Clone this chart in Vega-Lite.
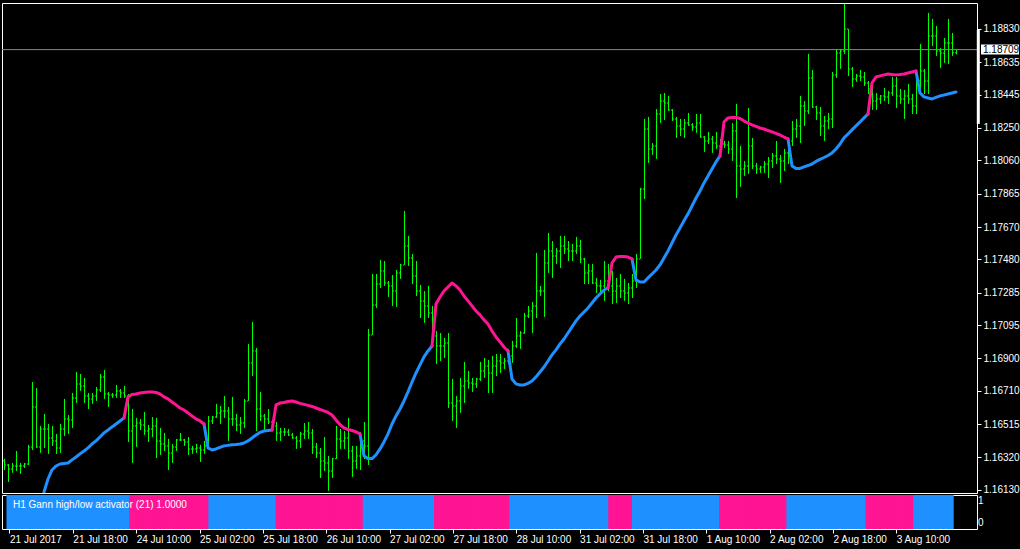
{
"$schema": "https://vega.github.io/schema/vega-lite/v6.json",
"background": "#000000",
"padding": {"left": 1, "top": 2, "right": 0, "bottom": 5},
"autosize": {"type": "pad"},
"bounds": "flush",
"spacing": 2,
"config": {
  "view": {"stroke": "#FFFFFF", "strokeWidth": 1},
  "font": "Liberation Sans",
  "axis": {"labelColor": "#FFFFFF", "tickColor": "#FFFFFF", "domain": false, "grid": false, "labelFont": "Liberation Sans", "labelFontSize": 10, "labelOverlap": false},
  "axisY": {"labelOverlap": false},
  "axisRight": {"labelOverlap": false}
},
"datasets": {
"bars": [
{"i":0,"o":1.16300,"h":1.16312,"l":1.16247,"c":1.16276,"s":"u"},
{"i":1,"o":1.16276,"h":1.16282,"l":1.16177,"c":1.16253,"s":"u"},
{"i":2,"o":1.16253,"h":1.16288,"l":1.16230,"c":1.16270,"s":"u"},
{"i":3,"o":1.16270,"h":1.16358,"l":1.16241,"c":1.16270,"s":"u"},
{"i":4,"o":1.16270,"h":1.16288,"l":1.16224,"c":1.16270,"s":"u"},
{"i":5,"o":1.16270,"h":1.16288,"l":1.16259,"c":1.16282,"s":"u"},
{"i":6,"o":1.16282,"h":1.16394,"l":1.16276,"c":1.16382,"s":"u"},
{"i":7,"o":1.16382,"h":1.16762,"l":1.16364,"c":1.16616,"s":"u"},
{"i":8,"o":1.16616,"h":1.16727,"l":1.16376,"c":1.16382,"s":"u"},
{"i":9,"o":1.16382,"h":1.16505,"l":1.16347,"c":1.16487,"s":"u"},
{"i":10,"o":1.16487,"h":1.16575,"l":1.16376,"c":1.16487,"s":"u","up":1.16118},
{"i":11,"o":1.16487,"h":1.16516,"l":1.16341,"c":1.16434,"s":"u","up":1.16194},
{"i":12,"o":1.16434,"h":1.16505,"l":1.16388,"c":1.16417,"s":"u","up":1.16247},
{"i":13,"o":1.16417,"h":1.16458,"l":1.16341,"c":1.16376,"s":"u","up":1.16270},
{"i":14,"o":1.16376,"h":1.16516,"l":1.16347,"c":1.16487,"s":"u","up":1.16282},
{"i":15,"o":1.16487,"h":1.16663,"l":1.16446,"c":1.16546,"s":"u","up":1.16285},
{"i":16,"o":1.16546,"h":1.16569,"l":1.16458,"c":1.16540,"s":"u","up":1.16288},
{"i":17,"o":1.16540,"h":1.16698,"l":1.16493,"c":1.16669,"s":"u","up":1.16306},
{"i":18,"o":1.16669,"h":1.16821,"l":1.16639,"c":1.16751,"s":"u","up":1.16323},
{"i":19,"o":1.16751,"h":1.16809,"l":1.16710,"c":1.16739,"s":"u","up":1.16341},
{"i":20,"o":1.16739,"h":1.16786,"l":1.16639,"c":1.16680,"s":"u","up":1.16358},
{"i":21,"o":1.16680,"h":1.16698,"l":1.16604,"c":1.16663,"s":"u","up":1.16376},
{"i":22,"o":1.16663,"h":1.16698,"l":1.16634,"c":1.16680,"s":"u","up":1.16399},
{"i":23,"o":1.16680,"h":1.16733,"l":1.16651,"c":1.16716,"s":"u","up":1.16417},
{"i":24,"o":1.16716,"h":1.16809,"l":1.16704,"c":1.16792,"s":"u","up":1.16440},
{"i":25,"o":1.16792,"h":1.16833,"l":1.16663,"c":1.16692,"s":"u","up":1.16464},
{"i":26,"o":1.16692,"h":1.16704,"l":1.16616,"c":1.16686,"s":"u","up":1.16481},
{"i":27,"o":1.16686,"h":1.16698,"l":1.16669,"c":1.16686,"s":"u","up":1.16499},
{"i":28,"o":1.16686,"h":1.16745,"l":1.16669,"c":1.16710,"s":"u","up":1.16516},
{"i":29,"o":1.16710,"h":1.16721,"l":1.16669,"c":1.16698,"s":"u","up":1.16534},
{"i":30,"o":1.16698,"h":1.16739,"l":1.16669,"c":1.16680,"s":"u","up":1.16552,"dn":1.16552},
{"i":31,"o":1.16680,"h":1.16692,"l":1.16411,"c":1.16475,"s":"d","dn":1.16675},
{"i":32,"o":1.16475,"h":1.16604,"l":1.16288,"c":1.16505,"s":"d","dn":1.16689},
{"i":33,"o":1.16505,"h":1.16552,"l":1.16382,"c":1.16522,"s":"d","dn":1.16692},
{"i":34,"o":1.16522,"h":1.16546,"l":1.16481,"c":1.16511,"s":"d","dn":1.16698},
{"i":35,"o":1.16511,"h":1.16587,"l":1.16452,"c":1.16475,"s":"d","dn":1.16701},
{"i":36,"o":1.16475,"h":1.16511,"l":1.16411,"c":1.16487,"s":"d","dn":1.16704},
{"i":37,"o":1.16487,"h":1.16557,"l":1.16440,"c":1.16505,"s":"d","dn":1.16704},
{"i":38,"o":1.16505,"h":1.16552,"l":1.16317,"c":1.16417,"s":"d","dn":1.16701},
{"i":39,"o":1.16417,"h":1.16493,"l":1.16335,"c":1.16399,"s":"d","dn":1.16692},
{"i":40,"o":1.16399,"h":1.16464,"l":1.16358,"c":1.16388,"s":"d","dn":1.16675},
{"i":41,"o":1.16388,"h":1.16429,"l":1.16247,"c":1.16347,"s":"d","dn":1.16663},
{"i":42,"o":1.16347,"h":1.16399,"l":1.16288,"c":1.16382,"s":"d","dn":1.16645},
{"i":43,"o":1.16382,"h":1.16429,"l":1.16358,"c":1.16423,"s":"d","dn":1.16628},
{"i":44,"o":1.16423,"h":1.16464,"l":1.16417,"c":1.16423,"s":"d","dn":1.16610},
{"i":45,"o":1.16423,"h":1.16429,"l":1.16388,"c":1.16411,"s":"d","dn":1.16598},
{"i":46,"o":1.16411,"h":1.16440,"l":1.16335,"c":1.16370,"s":"d","dn":1.16581},
{"i":47,"o":1.16370,"h":1.16388,"l":1.16341,"c":1.16370,"s":"d","dn":1.16563},
{"i":48,"o":1.16370,"h":1.16399,"l":1.16347,"c":1.16376,"s":"d","dn":1.16546},
{"i":49,"o":1.16376,"h":1.16394,"l":1.16294,"c":1.16364,"s":"d","dn":1.16534},
{"i":50,"o":1.16364,"h":1.16417,"l":1.16341,"c":1.16388,"s":"d","dn":1.16516,"up":1.16516},
{"i":51,"o":1.16388,"h":1.16563,"l":1.16376,"c":1.16534,"s":"u","up":1.16376},
{"i":52,"o":1.16534,"h":1.16563,"l":1.16516,"c":1.16557,"s":"u","up":1.16364},
{"i":53,"o":1.16557,"h":1.16634,"l":1.16552,"c":1.16581,"s":"u","up":1.16370},
{"i":54,"o":1.16581,"h":1.16622,"l":1.16516,"c":1.16593,"s":"u","up":1.16379},
{"i":55,"o":1.16593,"h":1.16680,"l":1.16552,"c":1.16593,"s":"u","up":1.16388},
{"i":56,"o":1.16593,"h":1.16616,"l":1.16417,"c":1.16546,"s":"u","up":1.16391},
{"i":57,"o":1.16546,"h":1.16675,"l":1.16505,"c":1.16546,"s":"u","up":1.16394},
{"i":58,"o":1.16546,"h":1.16575,"l":1.16475,"c":1.16511,"s":"u","up":1.16396},
{"i":59,"o":1.16511,"h":1.16557,"l":1.16458,"c":1.16522,"s":"u","up":1.16399},
{"i":60,"o":1.16522,"h":1.16663,"l":1.16493,"c":1.16651,"s":"u","up":1.16405},
{"i":61,"o":1.16651,"h":1.16985,"l":1.16651,"c":1.16874,"s":"u","up":1.16417},
{"i":62,"o":1.16874,"h":1.17114,"l":1.16797,"c":1.16944,"s":"u","up":1.16434},
{"i":63,"o":1.16944,"h":1.16962,"l":1.16475,"c":1.16604,"s":"u","up":1.16452},
{"i":64,"o":1.16604,"h":1.16704,"l":1.16534,"c":1.16563,"s":"u","up":1.16467},
{"i":65,"o":1.16563,"h":1.16575,"l":1.16475,"c":1.16546,"s":"u","up":1.16475},
{"i":66,"o":1.16546,"h":1.16604,"l":1.16516,"c":1.16528,"s":"u","up":1.16478},
{"i":67,"o":1.16528,"h":1.16534,"l":1.16475,"c":1.16505,"s":"u","up":1.16481,"dn":1.16481},
{"i":68,"o":1.16505,"h":1.16528,"l":1.16417,"c":1.16464,"s":"d","dn":1.16628},
{"i":69,"o":1.16464,"h":1.16493,"l":1.16417,"c":1.16470,"s":"d","dn":1.16639},
{"i":70,"o":1.16470,"h":1.16493,"l":1.16446,"c":1.16470,"s":"d","dn":1.16642},
{"i":71,"o":1.16470,"h":1.16487,"l":1.16446,"c":1.16452,"s":"d","dn":1.16648},
{"i":72,"o":1.16452,"h":1.16464,"l":1.16429,"c":1.16434,"s":"d","dn":1.16651},
{"i":73,"o":1.16434,"h":1.16446,"l":1.16370,"c":1.16417,"s":"d","dn":1.16645},
{"i":74,"o":1.16417,"h":1.16470,"l":1.16376,"c":1.16458,"s":"d","dn":1.16637},
{"i":75,"o":1.16458,"h":1.16522,"l":1.16429,"c":1.16475,"s":"d","dn":1.16631},
{"i":76,"o":1.16475,"h":1.16528,"l":1.16429,"c":1.16464,"s":"d","dn":1.16625},
{"i":77,"o":1.16464,"h":1.16487,"l":1.16341,"c":1.16382,"s":"d","dn":1.16619},
{"i":78,"o":1.16382,"h":1.16405,"l":1.16317,"c":1.16347,"s":"d","dn":1.16610},
{"i":79,"o":1.16347,"h":1.16376,"l":1.16200,"c":1.16300,"s":"d","dn":1.16601},
{"i":80,"o":1.16300,"h":1.16440,"l":1.16241,"c":1.16288,"s":"d","dn":1.16593},
{"i":81,"o":1.16288,"h":1.16329,"l":1.16124,"c":1.16241,"s":"d","dn":1.16584},
{"i":82,"o":1.16241,"h":1.16317,"l":1.16200,"c":1.16312,"s":"d","dn":1.16569},
{"i":83,"o":1.16312,"h":1.16505,"l":1.16311,"c":1.16429,"s":"d","dn":1.16540},
{"i":84,"o":1.16429,"h":1.16487,"l":1.16370,"c":1.16417,"s":"d","dn":1.16513},
{"i":85,"o":1.16417,"h":1.16475,"l":1.16370,"c":1.16434,"s":"d","dn":1.16493},
{"i":86,"o":1.16434,"h":1.16552,"l":1.16312,"c":1.16358,"s":"d","dn":1.16484},
{"i":87,"o":1.16358,"h":1.16388,"l":1.16206,"c":1.16300,"s":"d","dn":1.16478},
{"i":88,"o":1.16300,"h":1.16388,"l":1.16253,"c":1.16329,"s":"d","dn":1.16470},
{"i":89,"o":1.16329,"h":1.16470,"l":1.16247,"c":1.16417,"s":"d","dn":1.16458,"up":1.16458},
{"i":90,"o":1.16417,"h":1.16528,"l":1.16311,"c":1.16388,"s":"u","up":1.16329},
{"i":91,"o":1.16388,"h":1.17073,"l":1.16276,"c":1.17038,"s":"u","up":1.16314},
{"i":92,"o":1.17038,"h":1.17395,"l":1.17038,"c":1.17213,"s":"u","up":1.16314},
{"i":93,"o":1.17213,"h":1.17395,"l":1.17196,"c":1.17336,"s":"u","up":1.16335},
{"i":94,"o":1.17336,"h":1.17477,"l":1.17313,"c":1.17413,"s":"u","up":1.16370},
{"i":95,"o":1.17413,"h":1.17471,"l":1.17325,"c":1.17342,"s":"u","up":1.16411},
{"i":96,"o":1.17342,"h":1.17354,"l":1.17260,"c":1.17325,"s":"u","up":1.16458},
{"i":97,"o":1.17325,"h":1.17389,"l":1.17208,"c":1.17295,"s":"u","up":1.16516},
{"i":98,"o":1.17295,"h":1.17418,"l":1.17202,"c":1.17401,"s":"u","up":1.16563},
{"i":99,"o":1.17401,"h":1.17454,"l":1.17366,"c":1.17448,"s":"u","up":1.16604},
{"i":100,"o":1.17448,"h":1.17764,"l":1.17448,"c":1.17559,"s":"u","up":1.16651},
{"i":101,"o":1.17559,"h":1.17618,"l":1.17442,"c":1.17489,"s":"u","up":1.16704},
{"i":102,"o":1.17489,"h":1.17512,"l":1.17336,"c":1.17383,"s":"u","up":1.16762},
{"i":103,"o":1.17383,"h":1.17471,"l":1.17266,"c":1.17295,"s":"u","up":1.16815},
{"i":104,"o":1.17295,"h":1.17331,"l":1.17137,"c":1.17237,"s":"u","up":1.16862},
{"i":105,"o":1.17237,"h":1.17295,"l":1.17108,"c":1.17208,"s":"u","up":1.16909},
{"i":106,"o":1.17208,"h":1.17325,"l":1.17137,"c":1.17167,"s":"u","up":1.16944},
{"i":107,"o":1.17167,"h":1.17208,"l":1.17003,"c":1.17032,"s":"u","up":1.16973,"dn":1.16973},
{"i":108,"o":1.17032,"h":1.17061,"l":1.16868,"c":1.16973,"s":"d","dn":1.17219},
{"i":109,"o":1.16973,"h":1.17049,"l":1.16885,"c":1.16973,"s":"d","dn":1.17260},
{"i":110,"o":1.16973,"h":1.17020,"l":1.16903,"c":1.16991,"s":"d","dn":1.17295},
{"i":111,"o":1.16991,"h":1.17049,"l":1.16610,"c":1.16639,"s":"d","dn":1.17319},
{"i":112,"o":1.16639,"h":1.16780,"l":1.16534,"c":1.16622,"s":"d","dn":1.17342},
{"i":113,"o":1.16622,"h":1.16680,"l":1.16493,"c":1.16651,"s":"d","dn":1.17325},
{"i":114,"o":1.16651,"h":1.16786,"l":1.16581,"c":1.16739,"s":"d","dn":1.17301},
{"i":115,"o":1.16739,"h":1.16880,"l":1.16639,"c":1.16768,"s":"d","dn":1.17266},
{"i":116,"o":1.16768,"h":1.16827,"l":1.16722,"c":1.16757,"s":"d","dn":1.17237},
{"i":117,"o":1.16757,"h":1.16786,"l":1.16704,"c":1.16751,"s":"d","dn":1.17208},
{"i":118,"o":1.16751,"h":1.16786,"l":1.16727,"c":1.16780,"s":"d","dn":1.17178},
{"i":119,"o":1.16780,"h":1.16880,"l":1.16768,"c":1.16827,"s":"d","dn":1.17155},
{"i":120,"o":1.16827,"h":1.16903,"l":1.16786,"c":1.16856,"s":"d","dn":1.17126},
{"i":121,"o":1.16856,"h":1.16891,"l":1.16698,"c":1.16815,"s":"d","dn":1.17102},
{"i":122,"o":1.16815,"h":1.16915,"l":1.16698,"c":1.16856,"s":"d","dn":1.17061},
{"i":123,"o":1.16856,"h":1.16926,"l":1.16797,"c":1.16885,"s":"d","dn":1.17026},
{"i":124,"o":1.16885,"h":1.16926,"l":1.16815,"c":1.16874,"s":"d","dn":1.16997},
{"i":125,"o":1.16874,"h":1.16903,"l":1.16838,"c":1.16885,"s":"d","dn":1.16967},
{"i":126,"o":1.16885,"h":1.16956,"l":1.16868,"c":1.16915,"s":"d","dn":1.16944,"up":1.16944},
{"i":127,"o":1.16915,"h":1.17003,"l":1.16874,"c":1.16973,"s":"u","up":1.16780},
{"i":128,"o":1.16973,"h":1.17137,"l":1.16962,"c":1.17032,"s":"u","up":1.16751},
{"i":129,"o":1.17032,"h":1.17061,"l":1.16956,"c":1.17049,"s":"u","up":1.16745},
{"i":130,"o":1.17049,"h":1.17167,"l":1.17044,"c":1.17149,"s":"u","up":1.16745},
{"i":131,"o":1.17149,"h":1.17208,"l":1.17137,"c":1.17178,"s":"u","up":1.16754},
{"i":132,"o":1.17178,"h":1.17231,"l":1.17049,"c":1.17208,"s":"u","up":1.16768},
{"i":133,"o":1.17208,"h":1.17518,"l":1.17137,"c":1.17295,"s":"u","up":1.16792},
{"i":134,"o":1.17295,"h":1.17325,"l":1.17266,"c":1.17295,"s":"u","up":1.16821},
{"i":135,"o":1.17295,"h":1.17536,"l":1.17143,"c":1.17459,"s":"u","up":1.16850},
{"i":136,"o":1.17459,"h":1.17635,"l":1.17401,"c":1.17530,"s":"u","up":1.16885},
{"i":137,"o":1.17530,"h":1.17588,"l":1.17372,"c":1.17500,"s":"u","up":1.16921},
{"i":138,"o":1.17500,"h":1.17547,"l":1.17454,"c":1.17530,"s":"u","up":1.16950},
{"i":139,"o":1.17530,"h":1.17618,"l":1.17430,"c":1.17559,"s":"u","up":1.16985},
{"i":140,"o":1.17559,"h":1.17618,"l":1.17512,"c":1.17541,"s":"u","up":1.17014},
{"i":141,"o":1.17541,"h":1.17588,"l":1.17471,"c":1.17530,"s":"u","up":1.17049},
{"i":142,"o":1.17530,"h":1.17571,"l":1.17471,"c":1.17530,"s":"u","up":1.17085},
{"i":143,"o":1.17530,"h":1.17612,"l":1.17512,"c":1.17559,"s":"u","up":1.17120},
{"i":144,"o":1.17559,"h":1.17594,"l":1.17459,"c":1.17483,"s":"u","up":1.17149},
{"i":145,"o":1.17483,"h":1.17489,"l":1.17336,"c":1.17401,"s":"u","up":1.17172},
{"i":146,"o":1.17401,"h":1.17454,"l":1.17336,"c":1.17413,"s":"u","up":1.17196},
{"i":147,"o":1.17413,"h":1.17454,"l":1.17336,"c":1.17342,"s":"u","up":1.17225},
{"i":148,"o":1.17342,"h":1.17372,"l":1.17284,"c":1.17325,"s":"u","up":1.17254},
{"i":149,"o":1.17325,"h":1.17360,"l":1.17284,"c":1.17325,"s":"u","up":1.17278},
{"i":150,"o":1.17325,"h":1.17471,"l":1.17237,"c":1.17354,"s":"u","up":1.17301},
{"i":151,"o":1.17354,"h":1.17454,"l":1.17295,"c":1.17325,"s":"u","up":1.17313,"dn":1.17313},
{"i":152,"o":1.17325,"h":1.17413,"l":1.17219,"c":1.17295,"s":"d","dn":1.17459},
{"i":153,"o":1.17295,"h":1.17372,"l":1.17225,"c":1.17325,"s":"d","dn":1.17494},
{"i":154,"o":1.17325,"h":1.17395,"l":1.17254,"c":1.17295,"s":"d","dn":1.17497},
{"i":155,"o":1.17295,"h":1.17366,"l":1.17237,"c":1.17284,"s":"d","dn":1.17497},
{"i":156,"o":1.17284,"h":1.17342,"l":1.17219,"c":1.17313,"s":"d","dn":1.17494},
{"i":157,"o":1.17313,"h":1.17395,"l":1.17254,"c":1.17354,"s":"d","dn":1.17483,"up":1.17483},
{"i":158,"o":1.17354,"h":1.17512,"l":1.17313,"c":1.17483,"s":"u","up":1.17360},
{"i":159,"o":1.17483,"h":1.17899,"l":1.17483,"c":1.17893,"s":"u","up":1.17348},
{"i":160,"o":1.17893,"h":1.18303,"l":1.17834,"c":1.18244,"s":"u","up":1.17348},
{"i":161,"o":1.18244,"h":1.18315,"l":1.18045,"c":1.18127,"s":"u","up":1.17372},
{"i":162,"o":1.18127,"h":1.18162,"l":1.18092,"c":1.18145,"s":"u","up":1.17395},
{"i":163,"o":1.18145,"h":1.18361,"l":1.18069,"c":1.18332,"s":"u","up":1.17418},
{"i":164,"o":1.18332,"h":1.18449,"l":1.18279,"c":1.18408,"s":"u","up":1.17448},
{"i":165,"o":1.18408,"h":1.18455,"l":1.18297,"c":1.18397,"s":"u","up":1.17489},
{"i":166,"o":1.18397,"h":1.18438,"l":1.18350,"c":1.18356,"s":"u","up":1.17530},
{"i":167,"o":1.18356,"h":1.18361,"l":1.18291,"c":1.18303,"s":"u","up":1.17576},
{"i":168,"o":1.18303,"h":1.18315,"l":1.18192,"c":1.18262,"s":"u","up":1.17623},
{"i":169,"o":1.18262,"h":1.18303,"l":1.18203,"c":1.18244,"s":"u","up":1.17664},
{"i":170,"o":1.18244,"h":1.18303,"l":1.18192,"c":1.18279,"s":"u","up":1.17706},
{"i":171,"o":1.18279,"h":1.18338,"l":1.18262,"c":1.18268,"s":"u","up":1.17747},
{"i":172,"o":1.18268,"h":1.18279,"l":1.18233,"c":1.18256,"s":"u","up":1.17793},
{"i":173,"o":1.18256,"h":1.18332,"l":1.18221,"c":1.18279,"s":"u","up":1.17840},
{"i":174,"o":1.18279,"h":1.18332,"l":1.18192,"c":1.18197,"s":"u","up":1.17881},
{"i":175,"o":1.18197,"h":1.18203,"l":1.18110,"c":1.18174,"s":"u","up":1.17928},
{"i":176,"o":1.18174,"h":1.18227,"l":1.18156,"c":1.18186,"s":"u","up":1.17969},
{"i":177,"o":1.18186,"h":1.18203,"l":1.18104,"c":1.18162,"s":"u","up":1.18010},
{"i":178,"o":1.18162,"h":1.18227,"l":1.18127,"c":1.18145,"s":"u","up":1.18051},
{"i":179,"o":1.18145,"h":1.18186,"l":1.18086,"c":1.18156,"s":"u","up":1.18086,"dn":1.18086},
{"i":180,"o":1.18156,"h":1.18174,"l":1.18133,"c":1.18151,"s":"d","dn":1.18285},
{"i":181,"o":1.18151,"h":1.18174,"l":1.18098,"c":1.18127,"s":"d","dn":1.18309},
{"i":182,"o":1.18127,"h":1.18279,"l":1.18057,"c":1.18233,"s":"d","dn":1.18311},
{"i":183,"o":1.18233,"h":1.18391,"l":1.17840,"c":1.18028,"s":"d","dn":1.18311},
{"i":184,"o":1.18028,"h":1.18145,"l":1.17905,"c":1.18010,"s":"d","dn":1.18306},
{"i":185,"o":1.18010,"h":1.18057,"l":1.17969,"c":1.18028,"s":"d","dn":1.18291},
{"i":186,"o":1.18028,"h":1.18367,"l":1.17981,"c":1.18145,"s":"d","dn":1.18279},
{"i":187,"o":1.18145,"h":1.18192,"l":1.18010,"c":1.18028,"s":"d","dn":1.18268},
{"i":188,"o":1.18028,"h":1.18045,"l":1.17981,"c":1.18010,"s":"d","dn":1.18259},
{"i":189,"o":1.18010,"h":1.18028,"l":1.17987,"c":1.18022,"s":"d","dn":1.18250},
{"i":190,"o":1.18022,"h":1.18057,"l":1.17987,"c":1.18039,"s":"d","dn":1.18244},
{"i":191,"o":1.18039,"h":1.18080,"l":1.17957,"c":1.18057,"s":"d","dn":1.18235},
{"i":192,"o":1.18057,"h":1.18104,"l":1.18016,"c":1.18086,"s":"d","dn":1.18227},
{"i":193,"o":1.18086,"h":1.18174,"l":1.18039,"c":1.18069,"s":"d","dn":1.18218},
{"i":194,"o":1.18069,"h":1.18092,"l":1.17928,"c":1.18057,"s":"d","dn":1.18209},
{"i":195,"o":1.18057,"h":1.18127,"l":1.17998,"c":1.18104,"s":"d","dn":1.18197},
{"i":196,"o":1.18104,"h":1.18186,"l":1.18039,"c":1.18174,"s":"d","dn":1.18186,"up":1.18186},
{"i":197,"o":1.18174,"h":1.18291,"l":1.18145,"c":1.18244,"s":"u","up":1.18028},
{"i":198,"o":1.18244,"h":1.18303,"l":1.18192,"c":1.18262,"s":"u","up":1.18013},
{"i":199,"o":1.18262,"h":1.18438,"l":1.18162,"c":1.18379,"s":"u","up":1.18013},
{"i":200,"o":1.18379,"h":1.18408,"l":1.18262,"c":1.18350,"s":"u","up":1.18022},
{"i":201,"o":1.18350,"h":1.18684,"l":1.18332,"c":1.18543,"s":"u","up":1.18030},
{"i":202,"o":1.18543,"h":1.18590,"l":1.18367,"c":1.18373,"s":"u","up":1.18039},
{"i":203,"o":1.18373,"h":1.18380,"l":1.18297,"c":1.18338,"s":"u","up":1.18054},
{"i":204,"o":1.18338,"h":1.18373,"l":1.18203,"c":1.18262,"s":"u","up":1.18066},
{"i":205,"o":1.18262,"h":1.18320,"l":1.18174,"c":1.18291,"s":"u","up":1.18077},
{"i":206,"o":1.18291,"h":1.18338,"l":1.18244,"c":1.18303,"s":"u","up":1.18089},
{"i":207,"o":1.18303,"h":1.18578,"l":1.18250,"c":1.18561,"s":"u","up":1.18104},
{"i":208,"o":1.18561,"h":1.18713,"l":1.18543,"c":1.18689,"s":"u","up":1.18127},
{"i":209,"o":1.18689,"h":1.18713,"l":1.18596,"c":1.18701,"s":"u","up":1.18156},
{"i":210,"o":1.18701,"h":1.18976,"l":1.18684,"c":1.18830,"s":"u","up":1.18192},
{"i":211,"o":1.18830,"h":1.18830,"l":1.18555,"c":1.18596,"s":"u","up":1.18215},
{"i":212,"o":1.18596,"h":1.18607,"l":1.18490,"c":1.18537,"s":"u","up":1.18239},
{"i":213,"o":1.18537,"h":1.18566,"l":1.18520,"c":1.18555,"s":"u","up":1.18262},
{"i":214,"o":1.18555,"h":1.18590,"l":1.18525,"c":1.18549,"s":"u","up":1.18285},
{"i":215,"o":1.18549,"h":1.18578,"l":1.18496,"c":1.18514,"s":"u","up":1.18309},
{"i":216,"o":1.18514,"h":1.18525,"l":1.18449,"c":1.18479,"s":"u","up":1.18332,"dn":1.18332},
{"i":217,"o":1.18479,"h":1.18508,"l":1.18356,"c":1.18408,"s":"d","dn":1.18514},
{"i":218,"o":1.18408,"h":1.18455,"l":1.18356,"c":1.18420,"s":"d","dn":1.18549},
{"i":219,"o":1.18420,"h":1.18443,"l":1.18391,"c":1.18438,"s":"d","dn":1.18555},
{"i":220,"o":1.18438,"h":1.18484,"l":1.18408,"c":1.18432,"s":"d","dn":1.18561},
{"i":221,"o":1.18432,"h":1.18467,"l":1.18391,"c":1.18455,"s":"d","dn":1.18566},
{"i":222,"o":1.18455,"h":1.18549,"l":1.18438,"c":1.18496,"s":"d","dn":1.18563},
{"i":223,"o":1.18496,"h":1.18549,"l":1.18367,"c":1.18438,"s":"d","dn":1.18561},
{"i":224,"o":1.18438,"h":1.18479,"l":1.18391,"c":1.18420,"s":"d","dn":1.18563},
{"i":225,"o":1.18420,"h":1.18473,"l":1.18303,"c":1.18438,"s":"d","dn":1.18566},
{"i":226,"o":1.18438,"h":1.18508,"l":1.18391,"c":1.18420,"s":"d","dn":1.18572},
{"i":227,"o":1.18420,"h":1.18449,"l":1.18332,"c":1.18379,"s":"d","dn":1.18578},
{"i":228,"o":1.18379,"h":1.18543,"l":1.18332,"c":1.18525,"s":"d","dn":1.18584,"up":1.18584},
{"i":229,"o":1.18525,"h":1.18742,"l":1.18479,"c":1.18584,"s":"u","up":1.18455},
{"i":230,"o":1.18584,"h":1.18596,"l":1.18449,"c":1.18525,"s":"u","up":1.18432},
{"i":231,"o":1.18525,"h":1.18924,"l":1.18449,"c":1.18789,"s":"u","up":1.18426},
{"i":232,"o":1.18789,"h":1.18889,"l":1.18730,"c":1.18789,"s":"u","up":1.18420},
{"i":233,"o":1.18789,"h":1.18848,"l":1.18672,"c":1.18701,"s":"u","up":1.18429},
{"i":234,"o":1.18701,"h":1.18719,"l":1.18602,"c":1.18689,"s":"u","up":1.18438},
{"i":235,"o":1.18689,"h":1.18777,"l":1.18631,"c":1.18748,"s":"u","up":1.18443},
{"i":236,"o":1.18748,"h":1.18889,"l":1.18625,"c":1.18748,"s":"u","up":1.18449},
{"i":237,"o":1.18748,"h":1.18807,"l":1.18672,"c":1.18691,"s":"u","up":1.18455},
{"i":238,"o":1.18691,"h":1.18710,"l":1.18681,"c":1.18709,"s":"u","up":1.18461}
]
},
"vconcat": [
{
  "width": 975,
  "height": 490,
  "data": {"name": "bars"},
  "encoding": {
    "x": {"field": "i", "type": "quantitative", "scale": {"domain": [-0.5, 243.25], "nice": false, "zero": false}, "axis": null}
  },
  "layer": [
    {
      "mark": {"type": "rule", "color": "#00FF00", "strokeWidth": 1, "xOffset": 0.5},
      "encoding": {
        "y": {"field": "h", "type": "quantitative",
              "scale": {"domain": [1.16112, 1.18982], "nice": false, "zero": false},
              "axis": {"orient": "right", "title": null, "values": [1.1883, 1.18635, 1.18445, 1.1825, 1.1806, 1.17865, 1.1767, 1.1748, 1.17285, 1.17095, 1.169, 1.1671, 1.16515, 1.1632, 1.1613], "format": ".5f", "tickSize": 4, "labelPadding": 2, "labelFlush": false, "labelOverlap": false}},
        "y2": {"field": "l"}
      }
    },
    {
      "mark": {"type": "tick", "orient": "horizontal", "color": "#00FF00", "size": 1, "thickness": 1, "xOffset": -0.5, "opacity": 1},
      "encoding": {"y": {"field": "o", "type": "quantitative",
        "axis": {"orient": "right", "title": null, "values": [1.1883, 1.18635, 1.18445, 1.1825, 1.1806, 1.17865, 1.1767, 1.1748, 1.17285, 1.17095, 1.169, 1.1671, 1.16515, 1.1632, 1.1613], "format": ".5f", "tickSize": 4, "labelPadding": 2, "labelFlush": false, "labelOverlap": false}}}
    },
    {
      "mark": {"type": "tick", "orient": "horizontal", "color": "#00FF00", "size": 1, "thickness": 1, "xOffset": 1.5, "opacity": 1},
      "encoding": {"y": {"field": "c", "type": "quantitative",
        "axis": {"orient": "right", "title": null, "values": [1.1883, 1.18635, 1.18445, 1.1825, 1.1806, 1.17865, 1.1767, 1.1748, 1.17285, 1.17095, 1.169, 1.1671, 1.16515, 1.1632, 1.1613], "format": ".5f", "tickSize": 4, "labelPadding": 2, "labelFlush": false, "labelOverlap": false}}}
    },
    {
      "data": {"values": [{"p": 1.18709}]},
      "mark": {"type": "rule", "color": "#7B8A9C", "strokeWidth": 1},
      "encoding": {"x": null, "y": {"field": "p", "type": "quantitative",
        "axis": {"orient": "right", "title": null, "values": [1.1883, 1.18635, 1.18445, 1.1825, 1.1806, 1.17865, 1.1767, 1.1748, 1.17285, 1.17095, 1.169, 1.1671, 1.16515, 1.1632, 1.1613], "format": ".5f", "tickSize": 4, "labelPadding": 2, "labelFlush": false, "labelOverlap": false}}}
    },
    {
      "mark": {"type": "line", "color": "#1E90FF", "strokeWidth": 3, "strokeJoin": "round", "strokeCap": "round", "invalid": "break-paths-show-domains", "clip": true},
      "encoding": {"y": {"field": "up", "type": "quantitative",
        "axis": {"orient": "right", "title": null, "values": [1.1883, 1.18635, 1.18445, 1.1825, 1.1806, 1.17865, 1.1767, 1.1748, 1.17285, 1.17095, 1.169, 1.1671, 1.16515, 1.1632, 1.1613], "format": ".5f", "tickSize": 4, "labelPadding": 2, "labelFlush": false, "labelOverlap": false}}}
    },
    {
      "mark": {"type": "line", "color": "#FF1493", "strokeWidth": 3, "strokeJoin": "round", "strokeCap": "round", "invalid": "break-paths-show-domains", "clip": true},
      "encoding": {"y": {"field": "dn", "type": "quantitative",
        "axis": {"orient": "right", "title": null, "values": [1.1883, 1.18635, 1.18445, 1.1825, 1.1806, 1.17865, 1.1767, 1.1748, 1.17285, 1.17095, 1.169, 1.1671, 1.16515, 1.1632, 1.1613], "format": ".5f", "tickSize": 4, "labelPadding": 2, "labelFlush": false, "labelOverlap": false}}}
    },
    {
      "data": {"values": [{"a": 1.18824, "b": 1.18274}]},
      "mark": {"type": "rule", "color": "#FFFFFF", "strokeWidth": 3, "clip": false, "xOffset": 1.3},
      "encoding": {"x": {"value": "width"}, "y": {"field": "a", "type": "quantitative",
        "axis": {"orient": "right", "title": null, "values": [1.1883, 1.18635, 1.18445, 1.1825, 1.1806, 1.17865, 1.1767, 1.1748, 1.17285, 1.17095, 1.169, 1.1671, 1.16515, 1.1632, 1.1613], "format": ".5f", "tickSize": 4, "labelPadding": 2, "labelFlush": false, "labelOverlap": false}}, "y2": {"field": "b"}}
    },
    {
      "data": {"values": [{"p": 1.18709, "t": "1.18709"}]},
      "mark": {"type": "rule", "color": "#FFFFFF", "strokeWidth": 10, "clip": false, "xOffset": 4, "x2Offset": 42},
      "encoding": {"x": {"value": "width"}, "x2": {"value": "width"}, "y": {"field": "p", "type": "quantitative",
        "axis": {"orient": "right", "title": null, "values": [1.1883, 1.18635, 1.18445, 1.1825, 1.1806, 1.17865, 1.1767, 1.1748, 1.17285, 1.17095, 1.169, 1.1671, 1.16515, 1.1632, 1.1613], "format": ".5f", "tickSize": 4, "labelPadding": 2, "labelFlush": false, "labelOverlap": false}}}
    },
    {
      "data": {"values": [{"p": 1.18709, "t": "1.18709"}]},
      "mark": {"type": "text", "color": "#000000", "align": "left", "baseline": "middle", "font": "Liberation Sans", "fontSize": 10, "clip": false, "dx": 6},
      "encoding": {"x": {"value": "width"}, "y": {"field": "p", "type": "quantitative",
        "axis": {"orient": "right", "title": null, "values": [1.1883, 1.18635, 1.18445, 1.1825, 1.1806, 1.17865, 1.1767, 1.1748, 1.17285, 1.17095, 1.169, 1.1671, 1.16515, 1.1632, 1.1613], "format": ".5f", "tickSize": 4, "labelPadding": 2, "labelFlush": false, "labelOverlap": false}}, "text": {"field": "t"}}
    },
    {
      "data": {"values": [{"t": "▼  EURUSD,H1  1.18691 1.18710 1.18681 1.18709"}]},
      "mark": {"type": "text", "color": "#FFFFFF", "align": "left", "baseline": "middle", "font": "Liberation Sans", "fontSize": 10},
      "encoding": {"x": {"datum": 0.75}, "y": {"datum": 1.18935, "type": "quantitative",
        "axis": {"orient": "right", "title": null, "values": [1.1883, 1.18635, 1.18445, 1.1825, 1.1806, 1.17865, 1.1767, 1.1748, 1.17285, 1.17095, 1.169, 1.1671, 1.16515, 1.1632, 1.1613], "format": ".5f", "tickSize": 4, "labelPadding": 2, "labelFlush": false, "labelOverlap": false}}, "text": {"field": "t"}}
    }
  ]
},
{
  "width": 975,
  "height": 34,
  "data": {"name": "bars"},
  "layer": [
    {
      "mark": {"type": "bar", "size": 5, "orient": "vertical"},
      "encoding": {
        "x": {"field": "i", "type": "quantitative", "scale": {"domain": [-0.5, 243.25], "nice": false, "zero": false},
              "axis": {"orient": "bottom", "title": null, "values": [0, 16, 32, 48, 64, 80, 96, 112, 128, 144, 160, 176, 192, 208, 224],
                       "labelExpr": "['21 Jul 2017','21 Jul 18:00','24 Jul 10:00','25 Jul 02:00','25 Jul 18:00','26 Jul 10:00','27 Jul 02:00','27 Jul 18:00','28 Jul 10:00','31 Jul 02:00','31 Jul 18:00','1 Aug 10:00','2 Aug 02:00','2 Aug 18:00','3 Aug 10:00'][round(datum.value/16)]",
                       "labelAlign": "left", "labelBaseline": "top", "labelFlush": false, "labelOverlap": false, "tickSize": 4, "labelPadding": 1, "tickOffset": 0.5}},
        "y": {"datum": 1, "type": "quantitative", "scale": {"domain": [0, 1], "nice": false, "zero": false}, "axis": null},
        "y2": {"datum": 0},
        "color": {"field": "s", "type": "nominal", "scale": {"domain": ["u", "d"], "range": ["#1E90FF", "#FF1493"]}, "legend": null}
      }
    },
    {
      "data": {"values": [{"t": "H1 Gann high/low activator (21) 1.0000"}]},
      "mark": {"type": "text", "color": "#FFFFFF", "align": "left", "baseline": "middle", "font": "Liberation Sans", "fontSize": 10},
      "encoding": {
        "x": {"datum": 1, "type": "quantitative",
              "axis": {"orient": "bottom", "title": null, "values": [0, 16, 32, 48, 64, 80, 96, 112, 128, 144, 160, 176, 192, 208, 224],
                       "labelExpr": "['21 Jul 2017','21 Jul 18:00','24 Jul 10:00','25 Jul 02:00','25 Jul 18:00','26 Jul 10:00','27 Jul 02:00','27 Jul 18:00','28 Jul 10:00','31 Jul 02:00','31 Jul 18:00','1 Aug 10:00','2 Aug 02:00','2 Aug 18:00','3 Aug 10:00'][round(datum.value/16)]",
                       "labelAlign": "left", "labelBaseline": "top", "labelFlush": false, "labelOverlap": false, "tickSize": 4, "labelPadding": 1, "tickOffset": 0.5}},
        "y": {"datum": 0.7, "type": "quantitative", "axis": null},
        "text": {"field": "t"}
      }
    },
    {
      "data": {"values": [{"v": 1}]},
      "mark": {"type": "text", "color": "#FFFFFF", "align": "left", "baseline": "top", "font": "Liberation Sans", "fontSize": 10, "dx": 6, "dy": 1, "clip": false},
      "encoding": {
        "x": {"datum": 243.25, "type": "quantitative",
              "axis": {"orient": "bottom", "title": null, "values": [0, 16, 32, 48, 64, 80, 96, 112, 128, 144, 160, 176, 192, 208, 224],
                       "labelExpr": "['21 Jul 2017','21 Jul 18:00','24 Jul 10:00','25 Jul 02:00','25 Jul 18:00','26 Jul 10:00','27 Jul 02:00','27 Jul 18:00','28 Jul 10:00','31 Jul 02:00','31 Jul 18:00','1 Aug 10:00','2 Aug 02:00','2 Aug 18:00','3 Aug 10:00'][round(datum.value/16)]",
                       "labelAlign": "left", "labelBaseline": "top", "labelFlush": false, "labelOverlap": false, "tickSize": 4, "labelPadding": 1, "tickOffset": 0.5}},
        "y": {"field": "v", "type": "quantitative", "axis": null},
        "text": {"field": "v"}
      }
    },
    {
      "data": {"values": [{"v": 0}]},
      "mark": {"type": "text", "color": "#FFFFFF", "align": "left", "baseline": "bottom", "font": "Liberation Sans", "fontSize": 10, "dx": 6, "dy": -1, "clip": false},
      "encoding": {
        "x": {"datum": 243.25, "type": "quantitative",
              "axis": {"orient": "bottom", "title": null, "values": [0, 16, 32, 48, 64, 80, 96, 112, 128, 144, 160, 176, 192, 208, 224],
                       "labelExpr": "['21 Jul 2017','21 Jul 18:00','24 Jul 10:00','25 Jul 02:00','25 Jul 18:00','26 Jul 10:00','27 Jul 02:00','27 Jul 18:00','28 Jul 10:00','31 Jul 02:00','31 Jul 18:00','1 Aug 10:00','2 Aug 02:00','2 Aug 18:00','3 Aug 10:00'][round(datum.value/16)]",
                       "labelAlign": "left", "labelBaseline": "top", "labelFlush": false, "labelOverlap": false, "tickSize": 4, "labelPadding": 1, "tickOffset": 0.5}},
        "y": {"field": "v", "type": "quantitative", "axis": null},
        "text": {"field": "v"}
      }
    }
  ]
}
]
}
